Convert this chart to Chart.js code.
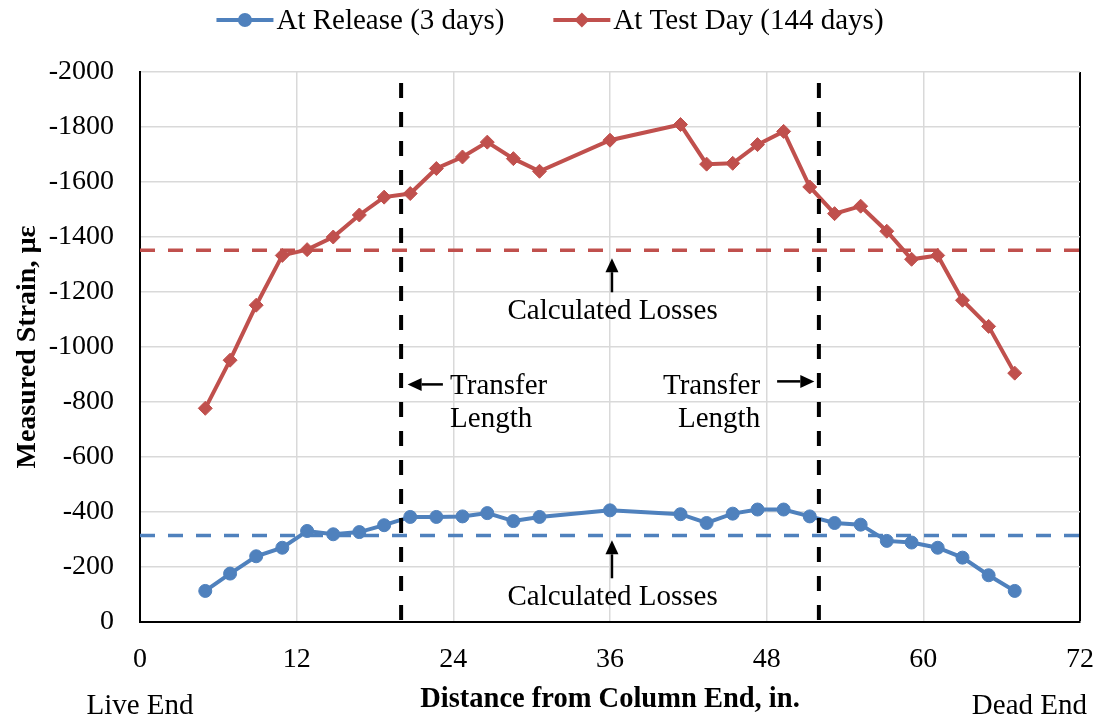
<!DOCTYPE html>
<html>
<head>
<meta charset="utf-8">
<script src="https://cdn.jsdelivr.net/npm/chart.js@4.4.1/dist/chart.umd.min.js"></script>
<style>
html, body { margin: 0; padding: 0; background: #ffffff; }
#wrap { width: 1100px; height: 719px; }
</style>
</head>
<body>
<div id="wrap"><canvas id="c" width="1100" height="719"></canvas></div>
<script>
// ---------------- DATA ----------------
const distances = [5.0, 6.9, 8.9, 10.9, 12.8, 14.8, 16.8, 18.7, 20.7, 22.7, 24.7, 26.6, 28.6, 30.6, 36.0,
                   41.4, 43.4, 45.4, 47.3, 49.3, 51.3, 53.2, 55.2, 57.2, 59.1, 61.1, 63.0, 65.0, 67.0];
const releaseStrain = [-113, -176, -239, -270, -331, -319, -327, -352, -382, -382, -384, -396, -367, -382, -406,
                       -392, -360, -394, -409, -409, -384, -360, -354, -295, -289, -270, -234, -170, -113];
const testDayStrain = [-777, -952, -1152, -1333, -1354, -1400, -1480, -1545, -1558, -1649, -1691, -1745, -1685, -1639, -1752,
                       -1809, -1665, -1668, -1736, -1784, -1582, -1485, -1512, -1421, -1319, -1333, -1170, -1075, -905];
const calcLossRelease = -315;
const calcLossTestDay = -1352;
const transferLengthLocations = [20, 52];
const seriesLabels = ['At Release (3 days)', 'At Test Day (144 days)'];
const xTickValues = [0, 12, 24, 36, 48, 60, 72];
const yTickValues = [0, -200, -400, -600, -800, -1000, -1200, -1400, -1600, -1800, -2000];
const xAxisTitle = 'Distance from Column End, in.';
const yAxisTitle = 'Measured Strain, \u00B5\u03B5';
const endLabels = ['Live End', 'Dead End'];
const annotationText = ['Calculated Losses', 'Transfer', 'Length'];

// ---------------- STYLE ----------------
const FONT = "'Liberation Serif', 'Times New Roman', serif";
const BLUE = '#4F81BD';
const RED = '#C0504D';
const GRID = '#D9D9D9';
const X_MIN = 0, X_MAX = 72, Y_MIN = -2000, Y_MAX = 0;
const TRANSFER_TOP = -1960;

const pts = (xs, ys) => xs.map((x, i) => ({ x: x, y: ys[i] }));
const hLine = (v) => [{ x: X_MIN, y: v }, { x: X_MAX, y: v }];
const vLine = (v) => [{ x: v, y: TRANSFER_TOP }, { x: v, y: Y_MAX }];

const datasets = [
  {
    label: seriesLabels[0], data: pts(distances, releaseStrain), showInLegend: true,
    borderColor: BLUE, backgroundColor: BLUE, borderWidth: 4,
    pointStyle: 'circle', pointRadius: 6.5, pointBorderWidth: 1,
    pointBackgroundColor: BLUE, pointBorderColor: BLUE, order: 1
  },
  {
    label: seriesLabels[1], data: pts(distances, testDayStrain), showInLegend: true,
    borderColor: RED, backgroundColor: RED, borderWidth: 4,
    pointStyle: 'rectRot', pointRadius: 7, pointBorderWidth: 1,
    pointBackgroundColor: RED, pointBorderColor: RED, order: 2
  },
  {
    label: 'calcRelease', data: hLine(calcLossRelease), borderColor: BLUE, borderWidth: 3.5,
    borderDash: [15, 13], pointRadius: 0, order: 3
  },
  {
    label: 'calcTest', data: hLine(calcLossTestDay), borderColor: RED, borderWidth: 3.5,
    borderDash: [15, 13], pointRadius: 0, order: 3
  }
].concat(transferLengthLocations.map((t, i) => ({
  label: 'transfer' + i, data: vLine(t), borderColor: '#000000', borderWidth: 4,
  borderDash: [15, 14], pointRadius: 0, order: 0
})));

// ---------------- PLUGINS ----------------
function drawMarker(ctx, style, x, y, r, color) {
  ctx.save();
  ctx.fillStyle = color;
  ctx.beginPath();
  if (style === 'circle') {
    ctx.arc(x, y, r, 0, Math.PI * 2);
  } else {
    ctx.moveTo(x - r, y); ctx.lineTo(x, y - r); ctx.lineTo(x + r, y); ctx.lineTo(x, y + r);
    ctx.closePath();
  }
  ctx.fill();
  ctx.restore();
}

function arrow(ctx, x1, y1, x2, y2) {
  const ang = Math.atan2(y2 - y1, x2 - x1);
  const hl = 14, hw = 6.5;
  const bx = x2 - Math.cos(ang) * hl, by = y2 - Math.sin(ang) * hl;
  ctx.save();
  ctx.strokeStyle = '#000'; ctx.fillStyle = '#000'; ctx.lineWidth = 2.5;
  ctx.beginPath(); ctx.moveTo(x1, y1); ctx.lineTo(bx, by); ctx.stroke();
  ctx.beginPath();
  ctx.moveTo(x2, y2);
  ctx.lineTo(bx + Math.sin(ang) * hw, by - Math.cos(ang) * hw);
  ctx.lineTo(bx - Math.sin(ang) * hw, by + Math.cos(ang) * hw);
  ctx.closePath(); ctx.fill();
  ctx.restore();
}

const TEXT_FONT = '29px ' + FONT;

const annotations = {
  id: 'annotations',
  afterDatasetsDraw(chart) {
    const ctx = chart.ctx;
    const xs = chart.scales.x, ys = chart.scales.y;
    const X = (v) => xs.getPixelForValue(v), Y = (v) => ys.getPixelForValue(v);
    ctx.save();
    ctx.font = TEXT_FONT;
    ctx.fillStyle = '#000';
    ctx.textBaseline = 'middle';
    // Calculated losses
    ctx.textAlign = 'center';
    ctx.fillText(annotationText[0], X(36.2), Y(-1130));
    ctx.fillText(annotationText[0], X(36.2), Y(-88));
    arrow(ctx, X(36.15), Y(-1199), X(36.15), Y(-1323));
    arrow(ctx, X(36.15), Y(-159), X(36.15), Y(-297));
    // Transfer length (left)
    ctx.textAlign = 'left';
    ctx.fillText(annotationText[1], X(23.75), Y(-857));
    ctx.fillText(annotationText[2], X(23.75), Y(-737));
    arrow(ctx, X(23.2), Y(-864), X(20.5), Y(-864));
    // Transfer length (right)
    ctx.textAlign = 'right';
    ctx.fillText(annotationText[1], X(47.5), Y(-857));
    ctx.fillText(annotationText[2], X(47.5), Y(-737));
    arrow(ctx, X(48.8), Y(-875), X(51.65), Y(-875));
    // End labels
    ctx.textAlign = 'center';
    ctx.fillText(endLabels[0], X(0), 706);
    ctx.textAlign = 'right';
    ctx.fillText(endLabels[1], chart.chartArea.right + 7, 706);
    ctx.restore();
  },
  afterDraw(chart) {
    // legend: line with marker
    const ctx = chart.ctx;
    const items = chart.data.datasets.filter(d => d.showInLegend);
    ctx.save();
    ctx.font = TEXT_FONT;
    const markerLen = 57, gap = 3, spacing = 49, y = 20;
    const widths = items.map(d => ctx.measureText(d.label).width);
    const total = widths.reduce((s, w) => s + markerLen + gap + w, 0) + spacing * (items.length - 1);
    let x = chart.width / 2 - total / 2;
    items.forEach((d, i) => {
      ctx.strokeStyle = d.borderColor; ctx.lineWidth = d.borderWidth;
      ctx.beginPath(); ctx.moveTo(x, y); ctx.lineTo(x + markerLen, y); ctx.stroke();
      drawMarker(ctx, d.pointStyle, x + markerLen / 2, y, d.pointRadius + 0.5, d.pointBackgroundColor);
      ctx.fillStyle = '#000'; ctx.textBaseline = 'middle'; ctx.textAlign = 'left';
      ctx.fillText(d.label, x + markerLen + gap, y + 1);
      x += markerLen + gap + widths[i] + spacing;
    });
    ctx.restore();
  }
};

// ---------------- CHART ----------------
Chart.defaults.font.family = FONT;
Chart.defaults.color = '#000';

new Chart(document.getElementById('c'), {
  type: 'line',
  data: { datasets: datasets },
  options: {
    responsive: false,
    animation: false,
    devicePixelRatio: 1,
    layout: { padding: { top: 72, left: 0, right: 20, bottom: 0 } },
    plugins: { legend: { display: false }, tooltip: { enabled: false } },
    elements: { line: { tension: 0, fill: false } },
    scales: {
      x: {
        type: 'linear', min: X_MIN, max: X_MAX,
        afterBuildTicks: (s) => { s.ticks = xTickValues.map(v => ({ value: v })); },
        afterFit: (s) => { s.height = 97; s.paddingLeft = 0; s.paddingRight = 0; },
        ticks: { font: { size: 28 }, color: '#000', padding: 21, maxRotation: 0, callback: (v) => String(v) },
        grid: {
          drawTicks: false,
          color: (c) => (c.tick && c.tick.value === X_MAX ? '#000' : GRID),
          lineWidth: (c) => (c.tick && c.tick.value === X_MAX ? 2 : 1.5)
        },
        border: { display: true, color: '#000', width: 2 },
        title: { display: true, text: xAxisTitle, font: { size: 28.5, weight: 'bold' }, color: '#000', padding: { top: 0, bottom: 2 } }
      },
      y: {
        type: 'linear', min: Y_MIN, max: Y_MAX, reverse: true,
        afterBuildTicks: (s) => { s.ticks = yTickValues.map(v => ({ value: v })); },
        afterFit: (s) => { s.width = 140; s.paddingTop = 0; s.paddingBottom = 0; },
        ticks: { font: { size: 28 }, color: '#000', padding: 26, callback: (v) => String(v) },
        grid: { drawTicks: false, color: GRID, lineWidth: 1.5 },
        border: { display: true, color: '#000', width: 2 },
        title: { display: true, text: yAxisTitle, font: { size: 28, weight: 'bold' }, color: '#000', padding: { top: 11, bottom: 0 } }
      }
    }
  },
  plugins: [annotations]
});
</script>
</body>
</html>
